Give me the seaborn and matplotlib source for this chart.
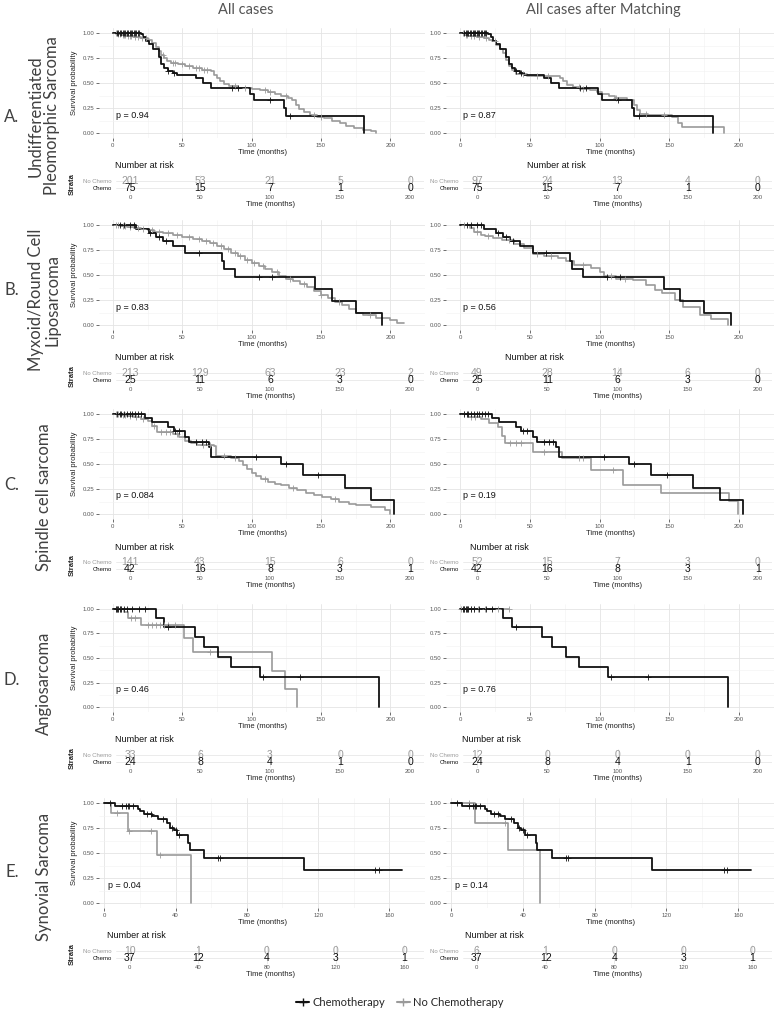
import numpy as np
import pandas as pd
import matplotlib
matplotlib.use("Agg")
import matplotlib.pyplot as plt
from matplotlib.lines import Line2D
import seaborn as sns

# ---------------- data ----------------
row_letters = ["A.", "B.", "C.", "D.", "E."]
row_names = ["Undifferentiated\nPleomorphic Sarcoma", "Myxoid/Round Cell\nLiposarcoma",
             "Spindle cell sarcoma", "Angiosarcoma", "Synovial Sarcoma"]
col_titles = ["All cases", "All cases after Matching"]

pvals_all = ["0.94", "0.83", "0.084", "0.46", "0.04"]
pvals_matched = ["0.87", "0.56", "0.19", "0.76", "0.14"]

time_ticks = [[0, 50, 100, 150, 200]] * 4 + [[0, 40, 80, 120, 160]]

risk_nochemo_all = [[201, 53, 21, 5, 0], [213, 129, 63, 23, 2], [141, 43, 15, 6, 0],
                    [33, 6, 3, 0, 0], [10, 1, 0, 0, 0]]
risk_nochemo_matched = [[97, 24, 13, 4, 0], [49, 28, 14, 6, 0], [52, 15, 7, 3, 0],
                        [12, 0, 0, 0, 0], [6, 1, 0, 0, 0]]
risk_chemo = [[75, 15, 7, 1, 0], [25, 11, 6, 3, 0], [42, 16, 8, 3, 1],
              [24, 8, 4, 1, 0], [37, 12, 4, 3, 1]]

# Kaplan-Meier steps (time, survival) + censoring times
# chemotherapy arm is the same in both columns
chemo_A_t = [0, 20, 22, 24, 26, 29, 33, 35, 37, 39.5, 43, 46, 60, 65, 71, 99, 102, 123, 125, 181]
chemo_A_s = [1, .99, .96, .92, .89, .84, .76, .69, .65, .62, .60, .58, .55, .50, .45, .39, .33, .25, .17, 0]
chemo_A_c = [3, 4, 5, 6, 7, 8, 9, 10, 11, 12, 13, 14, 15, 16, 17, 18, 19, 40, 44, 86, 90, 113, 128]

nochemo_A_all_t = [0, 3, 6, 10, 15, 20, 25, 28, 31, 33, 35, 37, 39, 42, 47, 52, 58, 64, 71, 73,
                   75, 77, 80, 84, 90, 100, 106, 112, 117, 121, 126, 129, 132, 134, 138, 142, 147,
                   152, 158, 164, 168, 174, 180, 186, 190]
nochemo_A_all_s = [1, .99, .98, .97, .96, .95, .93, .90, .86, .82, .78, .75, .72, .70, .69, .67, .65,
                   .63, .62, .58, .55, .52, .49, .47, .45, .44, .43, .41, .39, .37, .35, .33, .28,
                   .24, .21, .18, .16, .15, .12, .10, .07, .05, .03, .02, 0]
nochemo_A_all_c = [2, 4, 5, 7, 8, 9, 11, 12, 13, 16, 18, 21, 24, 36, 43, 45, 50, 55, 60, 62, 66,
                   68, 88, 95, 110, 113, 125, 145, 150]

nochemo_A_m_t = [0, 3, 6, 12, 17, 21, 23, 26, 29, 31, 33, 35, 37, 40, 48, 72, 74, 77, 81, 86,
                 93, 98, 102, 107, 111, 120, 125, 127, 129, 135, 152, 156, 159, 189]
nochemo_A_m_s = [1, .98, .97, .96, .95, .93, .92, .88, .84, .80, .73, .67, .63, .59, .57, .55, .52,
                 .48, .46, .44, .43, .41, .39, .37, .35, .33, .28, .23, .19, .18, .16, .10, .06, 0]
nochemo_A_m_c = [2, 4, 5, 8, 10, 14, 19, 25, 45, 55, 63, 85, 88, 112, 133, 146]

chemo_B_t = [0, 17, 26, 31, 36, 43, 52, 79, 80, 88, 146, 158, 175, 194]
chemo_B_s = [1, .96, .92, .88, .84, .79, .72, .64, .56, .48, .36, .24, .12, 0]
chemo_B_c = [5, 8, 12, 15, 27, 33, 38, 62, 105, 115]

nochemo_B_all_t = [0, 5, 10, 15, 20, 25, 30, 36, 43, 50, 58, 64, 70, 75, 80, 85, 90, 95, 100, 105,
                   110, 115, 120, 125, 130, 135, 140, 145, 150, 155, 160, 165, 170, 175, 180, 190,
                   200, 205, 210]
nochemo_B_all_s = [1, .99, .98, .97, .96, .95, .93, .92, .90, .88, .86, .84, .82, .79, .76, .72, .69,
                   .65, .62, .59, .56, .53, .49, .46, .44, .41, .38, .34, .30, .27, .23, .20, .16,
                   .12, .10, .07, .05, .02, .02]
nochemo_B_all_c = [2, 4, 7, 9, 12, 18, 22, 28, 33, 40, 46, 55, 62, 67, 72, 78, 83, 88, 92, 97,
                   102, 108, 118, 128, 138, 150, 163, 185]

nochemo_B_m_t = [0, 7, 10, 15, 18, 24, 30, 39, 46, 52, 60, 70, 76, 82, 94, 100, 103, 112, 124,
                 133, 140, 145, 154, 160, 172, 180, 192]
nochemo_B_m_s = [1, .97, .93, .90, .89, .87, .85, .81, .77, .71, .69, .67, .64, .60, .57, .53, .49,
                 .46, .45, .40, .35, .32, .25, .18, .10, .06, 0]
nochemo_B_m_c = [3, 12, 20, 35, 55, 65, 88, 108, 118]

chemo_C_t = [0, 23, 28, 40, 44, 52, 55, 69, 71, 121, 137, 167, 186, 203]
chemo_C_s = [1, .96, .92, .87, .83, .77, .72, .67, .57, .50, .39, .26, .14, 0]
chemo_C_c = [3, 5, 6, 8, 10, 12, 14, 16, 18, 20, 45, 48, 60, 64, 67, 103, 125, 148]

nochemo_C_all_t = [0, 5, 10, 15, 20, 25, 28, 32, 43, 48, 52, 56, 61, 73, 74, 85, 91, 94, 97, 100,
                   103, 107, 112, 117, 121, 127, 133, 139, 145, 151, 157, 163, 170, 175, 186, 196,
                   200]
nochemo_C_all_s = [1, .99, .98, .97, .95, .93, .88, .82, .80, .77, .73, .71, .69, .68, .58, .56, .53,
                   .49, .45, .41, .38, .35, .32, .30, .29, .26, .24, .21, .19, .17, .15, .12, .10,
                   .09, .07, .04, 0]
nochemo_C_all_c = [2, 4, 7, 9, 12, 17, 22, 30, 35, 38, 41, 46, 65, 70, 80, 88, 110, 130, 160]

nochemo_C_m_t = [0, 6, 15, 21, 27, 30, 32, 52, 73, 94, 117, 144, 193, 199]
nochemo_C_m_s = [1, .97, .95, .91, .87, .78, .71, .62, .56, .44, .29, .21, .13, 0]
nochemo_C_m_c = [3, 8, 11, 36, 40, 44, 60, 85, 88, 110]

chemo_D_t = [0, 31, 37, 59, 66, 76, 85, 106, 192]
chemo_D_s = [1, .91, .82, .71, .61, .51, .41, .31, 0]
chemo_D_c = [2, 3, 4, 5, 6, 8, 10, 14, 19, 23, 40, 108, 135]

nochemo_D_all_t = [0, 8, 11, 20, 51, 58, 115, 124, 133]
nochemo_D_all_s = [1, .97, .91, .84, .70, .56, .37, .18, 0]
nochemo_D_all_c = [2, 3, 4, 5, 6, 13, 16, 25, 28, 31, 34, 37, 40, 45, 70]

nochemo_D_m_t = [0, 35]
nochemo_D_m_s = [1, 1]
nochemo_D_m_c = [1, 2, 3, 4, 5, 6, 8, 10, 13, 18, 27, 35]

chemo_E_t = [0, 6, 19, 20, 22, 27, 30, 35, 37, 39, 41, 47, 48, 56, 112, 167]
chemo_E_s = [1, .97, .94, .92, .89, .87, .84, .80, .75, .73, .68, .60, .53, .45, .33, .33]
chemo_E_c = [3, 10, 12, 13, 14, 16, 24, 26, 33, 38, 40, 42, 64, 65, 152, 154]

nochemo_E_all_t = [0, 3.5, 13, 29.5, 48.5]
nochemo_E_all_s = [1, .90, .72, .48, 0]
nochemo_E_all_c = [7, 14, 26, 31]

nochemo_E_m_t = [0, 13, 31.8, 49.4]
nochemo_E_m_s = [1, .80, .53, 0]
nochemo_E_m_c = [10, 30]

chemo_curves = [(chemo_A_t, chemo_A_s, chemo_A_c), (chemo_B_t, chemo_B_s, chemo_B_c),
                (chemo_C_t, chemo_C_s, chemo_C_c), (chemo_D_t, chemo_D_s, chemo_D_c),
                (chemo_E_t, chemo_E_s, chemo_E_c)]
nochemo_curves = [
    [(nochemo_A_all_t, nochemo_A_all_s, nochemo_A_all_c), (nochemo_A_m_t, nochemo_A_m_s, nochemo_A_m_c)],
    [(nochemo_B_all_t, nochemo_B_all_s, nochemo_B_all_c), (nochemo_B_m_t, nochemo_B_m_s, nochemo_B_m_c)],
    [(nochemo_C_all_t, nochemo_C_all_s, nochemo_C_all_c), (nochemo_C_m_t, nochemo_C_m_s, nochemo_C_m_c)],
    [(nochemo_D_all_t, nochemo_D_all_s, nochemo_D_all_c), (nochemo_D_m_t, nochemo_D_m_s, nochemo_D_m_c)],
    [(nochemo_E_all_t, nochemo_E_all_s, nochemo_E_all_c), (nochemo_E_m_t, nochemo_E_m_s, nochemo_E_m_c)],
]

# ---------------- layout (pixels) ----------------
W, H = 782, 1010
surv_top = [28, 220, 409, 604, 798]
surv_bot = [138, 330, 519, 712, 908]
surv_x = [(99, 425), (446, 774)]
risk_x = [(116, 424), (463, 772)]
surv_xlims = [(-10, 210)] * 4 + [(-3, 171)]
risk_xlims = [(-10, 210)] * 4 + [(-8, 171.5)]
nar_x = [[115, 527], [115, 505], [115, 470], [115, 462], [107, 465]]
letter_y = [117, 290, 485, 680, 872]
label_y = [116, 300, 497, 683, 877]

GRAY = "#9a9a9a"
BLACK = "#111111"
TICK = "#555555"

sns.set_style("whitegrid")
plt.rcParams["font.family"] = ["Liberation Sans", "DejaVu Sans"]
title_font = ["Lato", "DejaVu Sans"]

fig = plt.figure(figsize=(W / 100, H / 100), dpi=100)


def px_axes(x0, y0, x1, y1):
    return fig.add_axes([x0 / W, 1 - y1 / H, (x1 - x0) / W, (y1 - y0) / H])


def draw_km(ax, t, s, cens, color, lw):
    df = pd.DataFrame({"time": t, "surv": s})
    sns.lineplot(data=df, x="time", y="surv", ax=ax, color=color, lw=lw,
                 drawstyle="steps-post", estimator=None, sort=False)
    if cens:
        idx = np.searchsorted(np.asarray(t), cens, side="right") - 1
        cdf = pd.DataFrame({"time": cens, "surv": np.asarray(s)[idx]})
        sns.scatterplot(data=cdf, x="time", y="surv", ax=ax, marker="+", color=color,
                        s=14, linewidth=0.6, zorder=3)


for i in range(5):
    xt = time_ticks[i]
    step = xt[1] - xt[0]
    minor = [v + step / 2 for v in xt]
    for j in range(2):
        # ---- survival panel ----
        ax = px_axes(surv_x[j][0], surv_top[i], surv_x[j][1], surv_bot[i])
        nt, ns, nc = nochemo_curves[i][j]
        draw_km(ax, nt, ns, nc, GRAY, 1.2)
        ct, cs, cc = chemo_curves[i]
        draw_km(ax, ct, cs, cc, BLACK, 1.3)
        ax.set_xlim(*surv_xlims[i])
        ax.set_ylim(-0.05, 1.05)
        ax.set_xticks(xt)
        ax.set_xticks(minor, minor=True)
        ax.set_yticks([0, .25, .5, .75, 1])
        ax.set_yticklabels(["0.00", "0.25", "0.50", "0.75", "1.00"])
        ax.set_yticks([.125, .375, .625, .875], minor=True)
        ax.grid(which="major", color="#e4e4e4", lw=0.6)
        ax.grid(which="minor", color="#f1f1f1", lw=0.4)
        ax.set_axisbelow(True)
        for sp in ax.spines.values():
            sp.set_visible(False)
        ax.tick_params(which="major", length=2, width=0.5, color="#333333", labelsize=4.3,
                       labelcolor=TICK, pad=1.5, bottom=True, left=True)
        ax.tick_params(which="minor", length=0)
        ax.set_xlabel("Time (months)", fontsize=5.5, color="#222222")
        ax.xaxis.set_label_coords(0.5, -0.1)
        if j == 0:
            ax.set_ylabel("Survival probability", fontsize=5.5, color="#222222")
            ax.yaxis.set_label_coords(-21 / 326, 0.5)
        else:
            ax.set_ylabel("")
        p = pvals_all[i] if j == 0 else pvals_matched[i]
        ax.text(2, 0.18, "p = " + p, fontsize=6.5, ha="left", va="center", color="#111111")

        # ---- risk table ----
        top = surv_bot[i] + 37
        rx = risk_x[j]
        rax = px_axes(rx[0], top, rx[1], top + 19)
        rax.set_xlim(*risk_xlims[i])
        rax.set_ylim(-0.7, 1.7)
        rax.set_xticks(xt)
        rax.set_yticks([0, 1])
        rax.set_yticklabels(["Chemo", "No Chemo"])
        ylabs = rax.get_yticklabels()
        ylabs[0].set_color(BLACK)
        ylabs[1].set_color(GRAY)
        rax.grid(color="#e8e8e8", lw=0.6)
        rax.set_axisbelow(True)
        for sp in rax.spines.values():
            sp.set_visible(False)
        rax.tick_params(axis="x", length=0, labelsize=4.3, labelcolor=TICK, pad=1)
        rax.tick_params(axis="y", length=0, labelsize=4.3, pad=3)
        nochemo_risk = risk_nochemo_all[i] if j == 0 else risk_nochemo_matched[i]
        for k, tt in enumerate(xt):
            rax.text(tt, 1, str(nochemo_risk[k]), ha="center", va="center", fontsize=7.5, color=GRAY)
            rax.text(tt, 0, str(risk_chemo[i][k]), ha="center", va="center", fontsize=7.5, color=BLACK)
        rax.set_xlabel("Time (months)", fontsize=5.5, color="#222222")
        rax.xaxis.set_label_coords(0.5, -7 / 19)
        if j == 0:
            rax.set_ylabel("Strata", fontsize=5.5, fontweight="bold", color="#222222")
            rax.yaxis.set_label_coords(-40 / 308, 0.5)
        rax.text((nar_x[i][j] - rx[0]) / (rx[1] - rx[0]), 1 + 9 / 19, "Number at risk",
                 transform=rax.transAxes, fontsize=6.5, ha="left", va="center", color="#111111")

    # row labels
    fig.text(12 / W, 1 - letter_y[i] / H, row_letters[i], fontsize=12, family=title_font,
             color="#404040", ha="center", va="center")
    fig.text(44 / W, 1 - label_y[i] / H, row_names[i], fontsize=12, family=title_font,
             color="#404040", ha="center", va="center", rotation=90, multialignment="center",
             linespacing=1.0)

fig.text(246 / W, 1 - 10 / H, col_titles[0], fontsize=10.5, family=title_font, color="#555555",
         ha="center", va="center")
fig.text(603 / W, 1 - 10 / H, col_titles[1], fontsize=10.5, family=title_font, color="#555555",
         ha="center", va="center")

handles = [Line2D([0], [0], color=BLACK, lw=1.5, marker="+", markersize=6),
           Line2D([0], [0], color=GRAY, lw=1.5, marker="+", markersize=6)]
fig.legend(handles, ["Chemotherapy", "No Chemotherapy"], loc="center",
           bbox_to_anchor=(400 / W, 1 - 1002 / H), ncol=2, frameon=False,
           prop={"family": ["Liberation Sans Narrow", "Lato", "DejaVu Sans"], "size": 8},
           handlelength=1.2, columnspacing=1.0, handletextpad=0.3)

fig.savefig("out.png", dpi=100, facecolor="white")
